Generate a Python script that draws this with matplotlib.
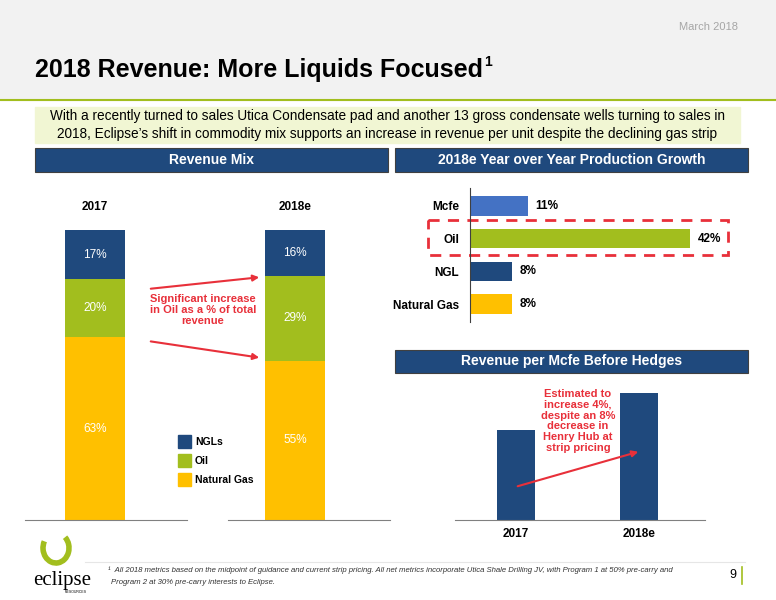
import matplotlib
matplotlib.use("Agg")
import matplotlib.pyplot as plt
from matplotlib.patches import Rectangle, Arc, FancyArrowPatch

plt.rcParams['font.family'] = ['Liberation Sans', 'DejaVu Sans']

mix_years = ["2017", "2018e"]
mix_series = ["Natural Gas", "Oil", "NGLs"]
mix_values = {"Natural Gas": [63, 55], "Oil": [20, 29], "NGLs": [17, 16]}
growth_cats = ["Mcfe", "Oil", "NGL", "Natural Gas"]
growth_vals = [11, 42, 8, 8]
rev_years = ["2017", "2018e"]
rev_vals = [3.00, 3.12]

NAVY = "#1F497D"; GREEN = "#A2BE1E"; YEL = "#FFC000"; LBLUE = "#4472C4"; RED = "#E8303A"
mix_colors = {"Natural Gas": YEL, "Oil": GREEN, "NGLs": NAVY}

W, H = 776, 600
fig = plt.figure(figsize=(7.76, 6.0), dpi=100)
ov = fig.add_axes([0, 0, 1, 1], zorder=0)
ov.set_xlim(0, W); ov.set_ylim(H, 0); ov.axis("off")
top = fig.add_axes([0, 0, 1, 1], zorder=10)
top.set_xlim(0, W); top.set_ylim(H, 0); top.axis("off")

def ax_px(x0, y0, x1, y1, z=1):
    a = fig.add_axes([x0 / W, 1 - y1 / H, (x1 - x0) / W, (y1 - y0) / H], zorder=z)
    a.patch.set_alpha(0)
    return a

# header
ov.add_patch(Rectangle((0, 0), W, 100, color="#F2F2F2"))
ov.plot([0, W], [100, 100], color="#A2BE1E", lw=1.5)
ov.text(738, 27, "March 2018", ha="right", va="center", fontsize=8, color="#A6A6A6")
ov.text(35, 70, "2018 Revenue: More Liquids Focused", fontsize=18, fontweight="bold", va="center")
ov.text(484, 62, "1", fontsize=10, fontweight="bold", va="center")
ov.add_patch(Rectangle((35, 107), 705, 36, color="#F1F6D3"))
ov.text(387, 116, "With a recently turned to sales Utica Condensate pad and another 13 gross condensate wells turning to sales in",
        ha="center", va="center", fontsize=9.8)
ov.text(387, 134, "2018, Eclipse’s shift in commodity mix supports an increase in revenue per unit despite the declining gas strip",
        ha="center", va="center", fontsize=9.8)
for (x0, x1, y0, y1, tt) in [(35, 388, 148, 172, "Revenue Mix"), (395, 748, 148, 172, "2018e Year over Year Production Growth"),
                             (395, 748, 350, 373, "Revenue per Mcfe Before Hedges")]:
    ov.add_patch(Rectangle((x0, y0), x1 - x0, y1 - y0, facecolor=NAVY, edgecolor="#404040", lw=0.8))
    ov.text((x0 + x1) / 2, (y0 + y1) / 2, tt, ha="center", va="center", color="white", fontweight="bold", fontsize=10)

# revenue mix stacked bars
for i, (x0, x1, lim) in enumerate([(25, 187, (-1.167, 1.533)), (228, 390, (-1.117, 1.583))]):
    a = ax_px(x0, 230, x1, 520)
    bottom = 0
    for s in mix_series:
        v = mix_values[s][i]
        a.bar(0, v, width=1, bottom=bottom, color=mix_colors[s])
        a.text(0, bottom + v / 2, f"{v}%", ha="center", va="center", color="white", fontsize=8.5)
        bottom += v
    a.set_xlim(*lim); a.set_ylim(0, 100)
    for sp in ["top", "left", "right"]:
        a.spines[sp].set_visible(False)
    a.spines["bottom"].set_color("#808080")
    a.set_xticks([]); a.set_yticks([])
    a.text(0, 108, mix_years[i], ha="center", va="center", fontweight="bold", fontsize=8.5)

# legend
for k, s in enumerate(["NGLs", "Oil", "Natural Gas"]):
    y = 442 + k * 19
    top.add_patch(Rectangle((178, y - 7), 13, 13, color=mix_colors[s]))
    top.text(195, y, s, va="center", fontsize=7.5, fontweight="bold")

top.text(203, 310, "Significant increase\nin Oil as a % of total\nrevenue", ha="center", va="center",
         color=RED, fontsize=8, fontweight="bold", linespacing=1.1)
for (p0, p1) in [((148, 289), (262, 277)), ((148, 341), (262, 358))]:
    top.add_patch(FancyArrowPatch(p0, p1, arrowstyle="-|>", mutation_scale=9, color=RED, lw=1.5))

# production growth
g = ax_px(470, 188, 740, 322)
g.barh(range(4), growth_vals, height=0.6, color=[LBLUE, GREEN, NAVY, YEL])
for i, v in enumerate(growth_vals):
    g.text(v + 1.5, i, f"{v}%", va="center", fontsize=8.5, fontweight="bold")
g.set_yticks(range(4)); g.set_yticklabels(growth_cats, fontsize=8.5, fontweight="bold")
g.set_ylim(3.55, -0.55); g.set_xlim(0, 51.5)
g.set_xticks([])
for sp in ["top", "right", "bottom"]:
    g.spines[sp].set_visible(False)
g.spines["left"].set_color("#404040")
g.tick_params(axis="y", length=0, pad=8)
ov.add_patch(Rectangle((428, 220), 300, 35, fill=False, edgecolor=RED, lw=2, ls=(0, (4, 3))))

# revenue per mcfe
r = ax_px(455, 380, 705, 520)
r.bar([0, 1], rev_vals, width=0.31, color=NAVY)
r.set_ylim(2.708, 3.162); r.set_xlim(-0.496, 1.537)
r.set_xticks([0, 1]); r.set_xticklabels(rev_years, fontsize=8.5, fontweight="bold")
r.set_yticks([])
for sp in ["top", "left", "right"]:
    r.spines[sp].set_visible(False)
r.spines["bottom"].set_color("#808080")
r.tick_params(axis="x", length=0, pad=6)
top.text(578, 421, "Estimated to\nincrease 4%,\ndespite an 8%\ndecrease in\nHenry Hub at\nstrip pricing", ha="center", va="center",
         color=RED, fontsize=8, fontweight="bold", linespacing=1.1)
top.add_patch(FancyArrowPatch((515, 487), (641, 451), arrowstyle="-|>", mutation_scale=9, color=RED, lw=1.5))

# footer
ov.plot([85, 745], [562, 562], color="#E6E6E6", lw=0.8)
ov.text(108, 570, "¹  All 2018 metrics based on the midpoint of guidance and current strip pricing. All net metrics incorporate Utica Shale Drilling JV, with Program 1 at 50% pre-carry and",
        fontsize=5.6, style="italic", va="center", color="#333333")
ov.text(111, 582, "Program 2 at 30% pre-carry interests to Eclipse.", fontsize=5.6, style="italic", va="center", color="#333333")
ov.text(736, 575, "9", fontsize=9, ha="right", va="center")
ov.plot([742, 742], [567, 584], color=GREEN, lw=1.2)
ov.add_patch(Arc((56, 548), 26, 30, theta1=-50, theta2=210, color=GREEN, lw=4))
ov.text(62, 580, "eclipse", fontsize=15, family="Liberation Serif", ha="center", va="center")
ov.text(76, 592, "RESOURCES", fontsize=2.5, ha="center", va="center")

fig.savefig("out.png", dpi=100)
